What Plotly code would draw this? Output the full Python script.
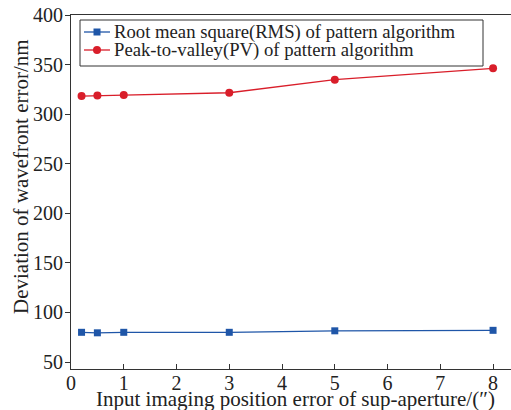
import plotly.graph_objects as go

# Input imaging position error of sub-aperture (arcsec)
x_err = [0.2, 0.5, 1, 3, 5, 8]
# Wavefront error deviations (nm)
rms_vals = [80, 79.5, 80, 80, 81.5, 82]
pv_vals = [318.2, 318.8, 319.2, 321.6, 334.8, 346.2]

x_ticks = [0, 1, 2, 3, 4, 5, 6, 7, 8]
y_ticks = [50, 100, 150, 200, 250, 300, 350, 400]

series_names = [
    "Root mean square(RMS) of pattern algorithm",
    "Peak-to-valley(PV) of pattern algorithm",
]
x_title = "Input imaging position error of sup-aperture/(″)"
y_title = "Deviation of wavefront error/nm"

font_family = "Liberation Serif, Times New Roman, serif"
text_color = "#222222"
blue = "#1f56a8"
red = "#d91e2a"

W, H = 511, 410
M_L, M_R, M_T, M_B = 71, 0, 15, 41
PLOT_W = W - M_L - M_R
PLOT_H = H - M_T - M_B


def paper_x(px):
    return (px - M_L) / PLOT_W


def paper_y(py):
    return (H - M_B - py) / PLOT_H


fig = go.Figure()
fig.add_trace(go.Scatter(
    x=x_err, y=rms_vals, mode="lines+markers", name=series_names[0],
    line=dict(color=blue, width=1.3),
    marker=dict(symbol="square", size=7, color=blue),
    showlegend=False,
))
fig.add_trace(go.Scatter(
    x=x_err, y=pv_vals, mode="lines+markers", name=series_names[1],
    line=dict(color=red, width=1.3),
    marker=dict(symbol="circle", size=8, color=red),
    showlegend=False,
))

# Compact boxed legend drawn in paper space
shapes = [dict(
    type="rect", xref="paper", yref="paper", layer="above",
    x0=paper_x(80), x1=paper_x(483), y0=paper_y(66), y1=paper_y(20),
    line=dict(color="#333333", width=1), fillcolor="white",
)]
annotations = []
legend_rows = [(32, blue, "square"), (50, red, "circle")]
for (row_y, color, sym), label in zip(legend_rows, series_names):
    shapes.append(dict(
        type="line", xref="paper", yref="paper", layer="above",
        x0=paper_x(84), x1=paper_x(110), y0=paper_y(row_y), y1=paper_y(row_y),
        line=dict(color=color, width=1.3),
    ))
    half = 3.5 if sym == "square" else 4
    shapes.append(dict(
        type="rect" if sym == "square" else "circle",
        xref="paper", yref="paper", layer="above",
        xsizemode="pixel", ysizemode="pixel",
        xanchor=paper_x(97), yanchor=paper_y(row_y),
        x0=-half, x1=half, y0=-half, y1=half,
        line=dict(color=color, width=0), fillcolor=color,
    ))
    annotations.append(dict(
        xref="paper", yref="paper", x=paper_x(112), y=paper_y(row_y),
        xanchor="left", yanchor="middle", showarrow=False, text=label,
        font=dict(family=font_family, size=18.7, color=text_color),
    ))

# Axis titles placed as annotations for tight spacing
annotations.append(dict(
    xref="paper", yref="paper", x=paper_x(295), y=paper_y(399),
    xanchor="center", yanchor="middle", showarrow=False, text=x_title,
    font=dict(family=font_family, size=21, color=text_color),
))
annotations.append(dict(
    xref="paper", yref="paper", x=paper_x(21), y=paper_y(177),
    xanchor="center", yanchor="middle", showarrow=False, text=y_title,
    textangle=-90,
    font=dict(family=font_family, size=21, color=text_color),
))

axis_common = dict(
    showgrid=False, zeroline=False, showline=True,
    linecolor="#333333", linewidth=1,
    tickfont=dict(family=font_family, size=20, color=text_color),
    tickcolor="#333333", ticklen=5,
)

fig.update_layout(
    width=W, height=H,
    margin=dict(l=M_L, r=M_R, t=M_T, b=M_B),
    paper_bgcolor="white", plot_bgcolor="white",
    font=dict(family=font_family, size=20, color=text_color),
    showlegend=False,
    shapes=shapes,
    annotations=annotations,
    xaxis=dict(
        **axis_common,
        range=[0, 8.34], tickvals=x_ticks, ticks="inside", mirror=True,
        ticklabelstandoff=-4,
    ),
    yaxis=dict(
        **axis_common,
        range=[43, 400], tickvals=y_ticks, ticks="outside",
        ticklabelstandoff=-2,
    ),
)

fig.write_html("out.html")
